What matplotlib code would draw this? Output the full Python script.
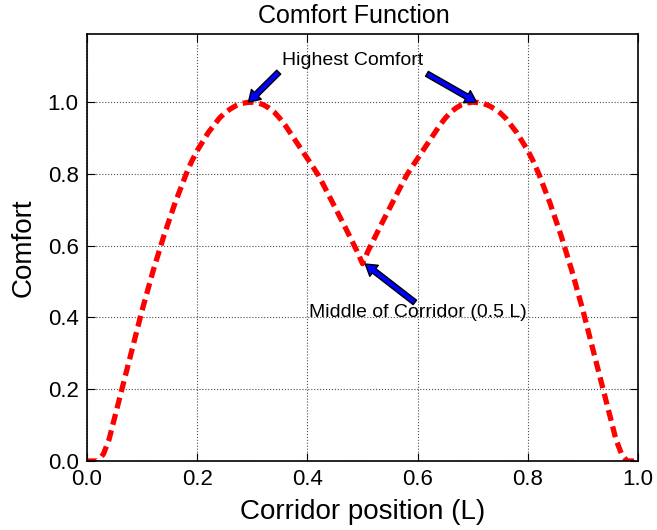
import numpy as np
import matplotlib
matplotlib.use("Agg")
import matplotlib.pyplot as plt

plt.rcParams['font.family'] = ['Liberation Sans', 'DejaVu Sans']

# corridor position (fraction of L) and comfort
position = [0.00, 0.02, 0.03, 0.04, 0.05, 0.06, 0.07, 0.08, 0.09, 0.10,
            0.11, 0.12, 0.13, 0.14, 0.15, 0.16, 0.17, 0.18, 0.19, 0.20,
            0.21, 0.22, 0.23, 0.24, 0.25, 0.26, 0.27, 0.28, 0.29, 0.30,
            0.31, 0.32, 0.33, 0.34, 0.35, 0.36, 0.37, 0.38, 0.39, 0.40,
            0.41, 0.42, 0.43, 0.44, 0.45, 0.46, 0.47, 0.48, 0.49, 0.50,
            0.51, 0.52, 0.53, 0.54, 0.55, 0.56, 0.57, 0.58, 0.59, 0.60,
            0.61, 0.62, 0.63, 0.64, 0.65, 0.66, 0.67, 0.68, 0.69, 0.70,
            0.71, 0.72, 0.73, 0.74, 0.75, 0.76, 0.77, 0.78, 0.79, 0.80,
            0.81, 0.82, 0.83, 0.84, 0.85, 0.86, 0.87, 0.88, 0.89, 0.90,
            0.91, 0.92, 0.93, 0.94, 0.95, 0.96, 0.97, 0.98, 1.00]
comfort = [0.000, 0.000, 0.020, 0.060, 0.120, 0.180, 0.240, 0.300, 0.360, 0.420,
           0.475, 0.530, 0.580, 0.630, 0.675, 0.720, 0.760, 0.800, 0.835, 0.865,
           0.890, 0.915, 0.935, 0.955, 0.970, 0.981, 0.990, 0.996, 0.999, 1.000,
           0.998, 0.993, 0.984, 0.972, 0.955, 0.935, 0.912, 0.889, 0.866, 0.843,
           0.820, 0.796, 0.767, 0.737, 0.707, 0.677, 0.647, 0.616, 0.585, 0.550,
           0.585, 0.616, 0.647, 0.677, 0.707, 0.737, 0.767, 0.796, 0.820, 0.843,
           0.866, 0.889, 0.912, 0.935, 0.955, 0.972, 0.984, 0.993, 0.998, 1.000,
           0.999, 0.996, 0.990, 0.981, 0.970, 0.955, 0.935, 0.915, 0.890, 0.865,
           0.835, 0.800, 0.760, 0.720, 0.675, 0.630, 0.580, 0.530, 0.475, 0.420,
           0.360, 0.300, 0.240, 0.180, 0.120, 0.060, 0.020, 0.000, 0.000]

fig = plt.figure(figsize=(6.57, 5.30), dpi=100)
ax = fig.add_axes([87/657, 69/530, 551/657, 427/530])

ax.plot(position, comfort, color='red', linestyle='--', linewidth=3.8, dashes=(2.1, 1.1))

ax.set_xlim(0, 1)
ax.set_ylim(0, 1.19)
ax.set_xticks(np.arange(0, 1.01, 0.2))
ax.set_yticks(np.arange(0, 1.01, 0.2))
ax.set_xticklabels(['0.0', '0.2', '0.4', '0.6', '0.8', '1.0'])
ax.set_yticklabels(['0.0', '0.2', '0.4', '0.6', '0.8', '1.0'])
ax.tick_params(direction='in', top=True, right=True, length=6, labelsize=16, pad=6)
ax.grid(True, linestyle=':', color='black', linewidth=0.8, alpha=0.7)
for s in ax.spines.values():
    s.set_linewidth(1.2)

ax.set_title('Comfort Function', fontsize=18, pad=8, x=0.484)
ax.set_xlabel('Corridor position (L)', fontsize=20, labelpad=6)
ax.set_ylabel('Comfort', fontsize=20, labelpad=8)

arrow = dict(facecolor='blue', edgecolor='black', width=4, headwidth=10, headlength=8, linewidth=1)
ax.annotate('Highest Comfort', xy=(0.293, 1.0), xytext=(0.353, 1.115), fontsize=14,
            va='center', ha='left', arrowprops=arrow)
ax.annotate('', xy=(0.707, 1.0), xytext=(0.617, 1.079), arrowprops=arrow)
ax.annotate('', xy=(0.505, 0.549), xytext=(0.595, 0.442), arrowprops=arrow)
ax.text(0.403, 0.414, 'Middle of Corridor (0.5 L)', fontsize=14, va='center', ha='left')

fig.savefig('out.png', dpi=100)
